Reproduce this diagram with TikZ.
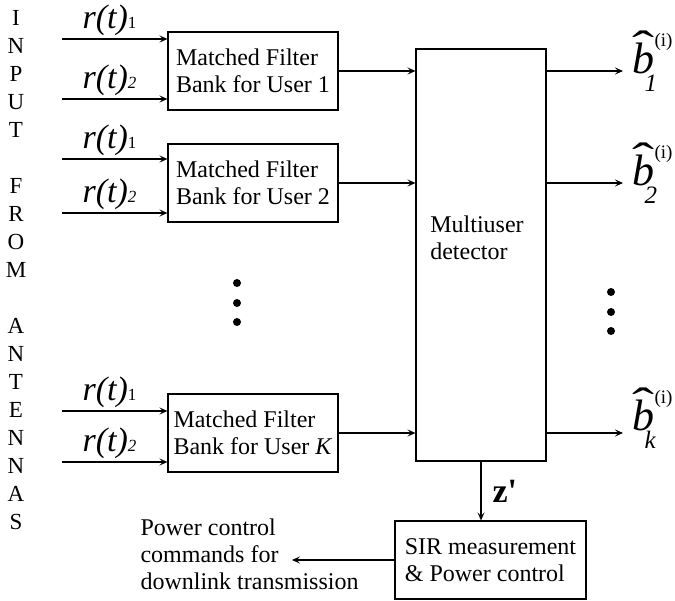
\documentclass[tikz,border=0pt]{standalone}
\usepackage{fontspec}
\setmainfont{Liberation Serif}
\usetikzlibrary{arrows.meta,positioning}

%% estimated-bit label: hat, b, superscript (i), subscript
\newcommand{\bhatlbl}[1]{%
  \makebox[0pt][l]{\raisebox{12pt}{\fontsize{44}{44}\selectfont\scalebox{1.5}[1]{\char"02C6}}}%
  {\fontsize{44}{44}\selectfont\itshape b}%
  \makebox[0pt][l]{\raisebox{27pt}{\fontsize{19}{19}\selectfont(i)}}%
  \hspace{-10pt}\raisebox{-18pt}{\fontsize{25}{25}\selectfont\itshape #1}}
%% received-signal label r(t)_n
\newcommand{\rlbl}[1]{{\fontsize{34}{34}\selectfont\itshape r(t)}{\fontsize{17}{17}\selectfont #1}}

\begin{document}
\begin{tikzpicture}[x=1pt,y=-1pt,
  >={Stealth[length=8pt,width=7pt,inset=3.5pt]},line width=1.1pt,
  every node/.style={inner sep=0pt},
  txt/.style={font=\fontsize{24}{27}\selectfont},
  mfbox/.style={draw,txt,align=left,minimum width=170pt,minimum height=78pt},
  dotmark/.style={fill=black}]

\useasboundingbox (0,0) rectangle (675,601);

%% ── antenna input label ──────────────────────────────────────────────────────
\node[font=\fontsize{23}{28}\selectfont,align=center,anchor=north] (antlbl) at (16,10)
  {I\\N\\P\\U\\T\\[28pt]F\\R\\O\\M\\[28pt]A\\N\\T\\E\\N\\N\\A\\S};

%% ── matched filter banks ─────────────────────────────────────────────────────
\node[mfbox] (mf1) at (253,71)  {Matched Filter\\Bank for User 1};
\node[mfbox] (mf2) at (253,183) {Matched Filter\\Bank for User 2};
\node[mfbox] (mfk) at (253,433) {Matched Filter\\Bank for User \textit{K}};

%% inputs r(t)_1, r(t)_2 to each bank
\foreach \bx/\ya/\yb in {mf1/39/99,mf2/159/213,mfk/411/462}{%
  \coordinate (\bx-in1) at (62,\ya);
  \coordinate (\bx-in2) at (62,\yb);
  \draw[->] (\bx-in1) -- (\bx-in1 -| \bx.west)
    node[pos=.45,anchor=base,yshift=10pt] {\rlbl{1}};
  \draw[->] (\bx-in2) -- (\bx-in2 -| \bx.west)
    node[pos=.45,anchor=base,yshift=10pt] {\rlbl{\textit{2}}};
}

%% vertical dots between banks
\foreach \yy in {283,303,322}
  \fill[dotmark] (237,\yy) circle (4pt);

%% ── multiuser detector ───────────────────────────────────────────────────────
\node[draw,minimum width=130pt,minimum height=412pt] (det) at (481,255) {};
\node[txt,align=left] (detlbl) at (477,238) {Multiuser\\detector};

\foreach \bx in {mf1,mf2,mfk}
  \draw[->] (\bx.east) -- (\bx.east -| det.west);

%% ── detector outputs ─────────────────────────────────────────────────────────
\node[anchor=base west] (bh1) at (632,74)  {\bhatlbl{1}};
\node[anchor=base west] (bh2) at (632,186) {\bhatlbl{2}};
\node[anchor=base west] (bhk) at (632,431) {\bhatlbl{k}};

\foreach \bx/\bh in {mf1/bh1,mf2/bh2,mfk/bhk}
  \draw[->,shorten >=9pt] (det.east |- \bx.east) -- (\bh.west |- \bx.east);

\foreach \yy in {292,312,331}
  \fill[dotmark] (611,\yy) circle (4pt);

%% ── SIR measurement and power control ────────────────────────────────────────
\node[draw,txt,align=left,minimum width=191pt,minimum height=78pt] (sir) at (490.5,560)
  {SIR measurement\\\& Power control};

\draw[->] (det.south) -- (det.south |- sir.north)
  node[midway,right=11pt,font=\fontsize{34}{34}\selectfont\bfseries] (zlbl) {z\textquotesingle};

\node[txt,align=left,anchor=west] (pctxt) at (140,554)
  {Power control\\commands for\\downlink transmission};
\coordinate (pcend) at (292,560);
\draw[->] (sir.west) -- (pcend);

\end{tikzpicture}
\end{document}
